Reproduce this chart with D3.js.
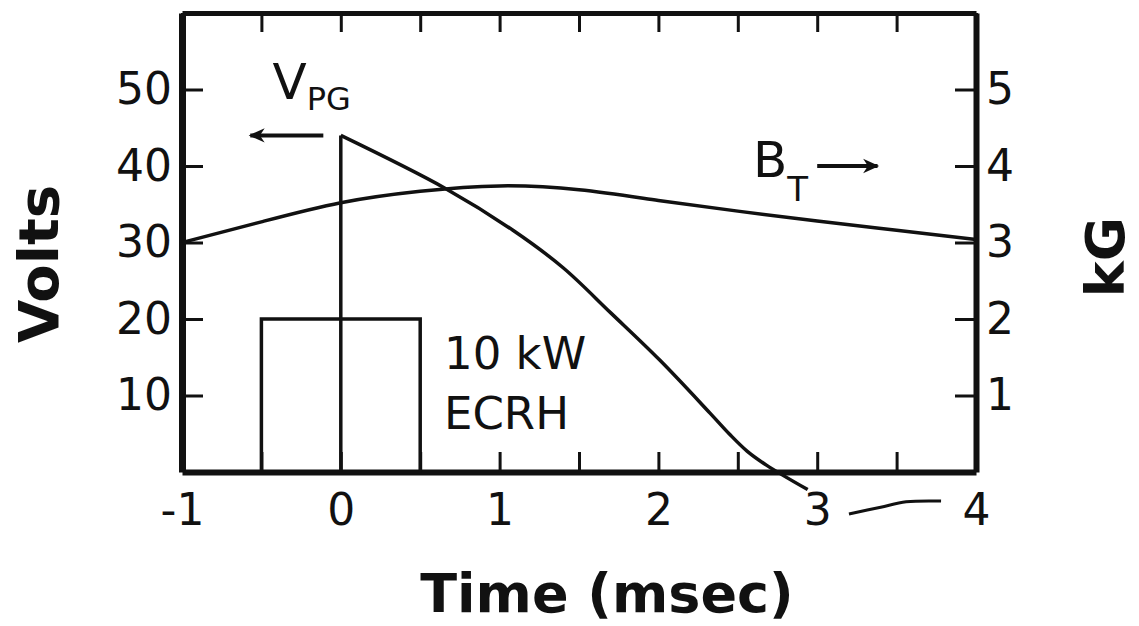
<!DOCTYPE html>
<html>
<head>
<meta charset="utf-8">
<script src="https://cdn.jsdelivr.net/npm/d3@7"></script>
<style>
  body { margin: 0; background: #fff; }
  text { font-family: "DejaVu Sans", sans-serif; fill: #111; }
  .axis path, .axis line { stroke: #111; }
</style>
</head>
<body>
<div id="chart"></div>
<script>
// Chart size
var svgWidth = 1139;
var svgHeight = 626;

// Data
var halfTicks = [-1, -0.5, 0, 0.5, 1, 1.5, 2, 2.5, 3, 3.5, 4];
var timeLabels = [-1, 0, 1, 2, 3, 4];
var voltTicks = [10, 20, 30, 40, 50];
var kgTicks = [1, 2, 3, 4, 5];

// V_PG (Volts): switched on at t = 0, then decays
var vpgStep = [[0, 0], [0, 44]];
var vpgTime = [0, 0.656, 1.084, 1.40, 1.70, 2.01, 2.325, 2.45, 2.56, 2.68, 2.94];
var vpgVolts = [44, 37.1, 31.6, 26.7, 20.8, 14.6, 7.7, 4.9, 2.7, 0.9, -2.3];

// B_T (kG)
var btTime = [-1, -0.5, 0, 0.5, 1.0, 1.5, 2.0, 2.5, 3.0, 3.5, 4.0];
var btKG = [3.0, 3.27, 3.52, 3.67, 3.74, 3.69, 3.55, 3.41, 3.28, 3.16, 3.04];

// ECRH pulse (Volts scale)
var ecrhStart = -0.5;
var ecrhEnd = 0.5;
var ecrhLevel = 20;

// pen stroke below the axis between 3 and 4
var penTime = [3.2, 3.4, 3.56, 3.78];
var penVolts = [-5.5, -4.6, -3.9, -3.8];

var svg = d3.select("#chart")
  .append("svg")
  .attr("width", svgWidth)
  .attr("height", svgHeight);

// Scales
var x = d3.scaleLinear().domain([-1, 4]).range([182, 976]);
var yV = d3.scaleLinear().domain([0, 60]).range([472, 13]);
var yK = d3.scaleLinear().domain([0, 6]).range([472, 13]);

// Axes, ticks pointing inward
var bottomAxis = d3.axisBottom(x)
  .tickValues(halfTicks)
  .tickSizeInner(-20).tickSizeOuter(0).tickPadding(22)
  .tickFormat(d => timeLabels.indexOf(d) >= 0 ? (d < 0 ? "-" + Math.abs(d) : d) : "");
var topAxis = d3.axisTop(x)
  .tickValues(halfTicks)
  .tickSizeInner(-19).tickSizeOuter(0)
  .tickFormat("");
var leftAxis = d3.axisLeft(yV)
  .tickValues(voltTicks)
  .tickSizeInner(-21).tickSizeOuter(0).tickPadding(10)
  .tickFormat(d3.format("d"));
var rightAxis = d3.axisRight(yK)
  .tickValues(kgTicks)
  .tickSizeInner(-21).tickSizeOuter(0).tickPadding(10)
  .tickFormat(d3.format("d"));

function styleAxis(g, w) {
  g.select(".domain").attr("stroke-width", w);
  g.selectAll(".tick line").attr("stroke-width", 3);
  g.selectAll(".tick text").style("font-size", "44px").attr("fill", "#111");
}

svg.append("g").attr("class", "axis")
  .attr("transform", `translate(0, ${yV(0)})`)
  .call(bottomAxis).call(g => styleAxis(g, 6));
svg.append("g").attr("class", "axis")
  .attr("transform", `translate(0, ${yV(60)})`)
  .call(topAxis).call(g => styleAxis(g, 5));
svg.append("g").attr("class", "axis")
  .attr("transform", `translate(${x(-1)}, 0)`)
  .call(leftAxis).call(g => styleAxis(g, 7));
svg.append("g").attr("class", "axis")
  .attr("transform", `translate(${x(4)}, 0)`)
  .call(rightAxis).call(g => styleAxis(g, 6));

// ECRH rectangle
svg.append("rect")
  .attr("x", x(ecrhStart))
  .attr("y", yV(ecrhLevel))
  .attr("width", x(ecrhEnd) - x(ecrhStart))
  .attr("height", yV(0) - yV(ecrhLevel))
  .attr("fill", "none")
  .attr("stroke", "#111")
  .attr("stroke-width", 3.5);

// V_PG
var stepLine = d3.line().x(d => x(d[0])).y(d => yV(d[1]));
svg.append("path")
  .attr("d", stepLine(vpgStep))
  .attr("fill", "none").attr("stroke", "#111").attr("stroke-width", 3.5);

var vpgLine = d3.line()
  .x((d, i) => x(vpgTime[i]))
  .y(d => yV(d))
  .curve(d3.curveCatmullRom.alpha(0.5));
svg.append("path")
  .attr("d", vpgLine(vpgVolts))
  .attr("fill", "none").attr("stroke", "#111").attr("stroke-width", 3.5);

// B_T
var btLine = d3.line()
  .x((d, i) => x(btTime[i]))
  .y(d => yK(d))
  .curve(d3.curveNatural);
svg.append("path")
  .attr("d", btLine(btKG))
  .attr("fill", "none").attr("stroke", "#111").attr("stroke-width", 3.5);

// pen stroke
var penLine = d3.line()
  .x((d, i) => x(penTime[i]))
  .y(d => yV(d))
  .curve(d3.curveCatmullRom);
svg.append("path")
  .attr("d", penLine(penVolts))
  .attr("fill", "none").attr("stroke", "#111").attr("stroke-width", 3);

// Arrow marker
svg.append("defs").append("marker")
  .attr("id", "arrow")
  .attr("viewBox", "0 0 10 10")
  .attr("refX", 9).attr("refY", 5)
  .attr("markerWidth", 6).attr("markerHeight", 4)
  .attr("markerUnits", "strokeWidth")
  .attr("orient", "auto")
  .append("path")
  .attr("d", "M0,0.5 L10,5 L0,9.5 L3,5 Z")
  .attr("fill", "#111");

// V_PG label + arrow
var vLabel = svg.append("text")
  .attr("x", x(-0.43)).attr("y", yV(48.7))
  .style("font-size", "50px");
vLabel.append("tspan").text("V");
vLabel.append("tspan").attr("dy", 11).style("font-size", "32px").text("PG");

svg.append("line")
  .attr("x1", x(-0.11)).attr("y1", yV(44))
  .attr("x2", x(-0.57)).attr("y2", yV(44))
  .attr("stroke", "#111").attr("stroke-width", 4)
  .attr("marker-end", "url(#arrow)");

// B_T label + arrow
var bLabel = svg.append("text")
  .attr("x", x(2.595)).attr("y", yV(38.6))
  .style("font-size", "50px");
bLabel.append("tspan").text("B");
bLabel.append("tspan").attr("dy", 24).style("font-size", "34px").text("T");

svg.append("line")
  .attr("x1", x(3.0)).attr("y1", yV(40))
  .attr("x2", x(3.38)).attr("y2", yV(40))
  .attr("stroke", "#111").attr("stroke-width", 4)
  .attr("marker-end", "url(#arrow)");

// ECRH label
svg.append("text")
  .attr("x", x(0.65)).attr("y", yV(13.4))
  .style("font-size", "45px")
  .text("10 kW");
svg.append("text")
  .attr("x", x(0.65)).attr("y", yV(5.6))
  .style("font-size", "45px")
  .text("ECRH");

// Axis titles
svg.append("text")
  .attr("x", 607).attr("y", 612)
  .attr("text-anchor", "middle")
  .style("font-size", "54px").style("font-weight", "bold")
  .text("Time (msec)");

svg.append("text")
  .attr("transform", "translate(58, 264) rotate(-90)")
  .attr("text-anchor", "middle")
  .style("font-size", "56px").style("font-weight", "bold")
  .text("Volts");

svg.append("text")
  .attr("transform", "translate(1124, 257) rotate(-90)")
  .attr("text-anchor", "middle")
  .style("font-size", "54px").style("font-weight", "bold")
  .text("kG");
</script>
</body>
</html>
